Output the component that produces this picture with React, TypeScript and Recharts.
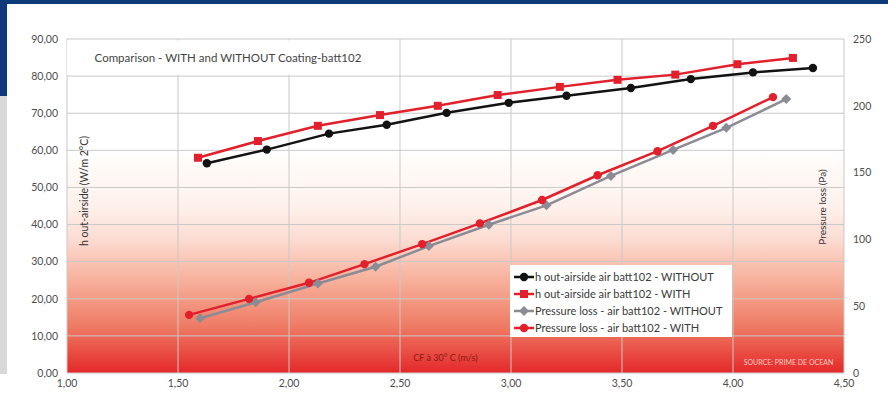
import React from 'react';
import {
  ComposedChart,
  Line,
  XAxis,
  YAxis,
  CartesianGrid,
  Legend,
  ReferenceArea,
} from 'recharts';

// ---- data ----
const xTicks = [1.0, 1.5, 2.0, 2.5, 3.0, 3.5, 4.0, 4.5];
const leftTicks = [0, 10, 20, 30, 40, 50, 60, 70, 80, 90];
const rightTicks = [0, 50, 100, 150, 200, 250];

const hWithoutX = [1.63, 1.9, 2.18, 2.44, 2.71, 2.99, 3.25, 3.54, 3.81, 4.09, 4.36];
const hWithoutY = [56.5, 60.2, 64.5, 66.9, 70.1, 72.8, 74.7, 76.8, 79.2, 81.0, 82.2];

const hWithX = [1.59, 1.86, 2.13, 2.41, 2.67, 2.94, 3.22, 3.48, 3.74, 4.02, 4.27];
const hWithY = [58.0, 62.5, 66.6, 69.5, 72.0, 74.9, 77.1, 79.0, 80.4, 83.2, 84.9];

const pWithoutX = [1.6, 1.85, 2.13, 2.39, 2.63, 2.9, 3.16, 3.45, 3.73, 3.97, 4.24];
const pWithoutY = [41, 53, 67, 79.5, 95, 111, 125.5, 147.5, 167, 183.5, 205];

const pWithX = [1.55, 1.82, 2.09, 2.34, 2.6, 2.86, 3.14, 3.39, 3.66, 3.91, 4.18];
const pWithY = [43.5, 55.5, 67.5, 81.5, 96.5, 112, 129.5, 148, 166, 185, 206.5];

const seriesNames = [
  'h out-airside air batt102 - WITHOUT',
  'h out-airside air batt102 - WITH',
  'Pressure loss - air batt102 - WITHOUT',
  'Pressure loss - air batt102 - WITH',
];

const titleText = 'Comparison - WITH and WITHOUT Coating-batt102';
const leftLabel = 'h out-airside (W/m 2°C)';
const rightLabel = 'Pressure loss (Pa)';
const xLabel = 'CF à 30° C (m/s)';
const sourceText = 'SOURCE: PRIME DE OCEAN';

const toPoints = (xs: number[], ys: number[]) => xs.map((x, i) => ({ x, y: ys[i] }));

const RED = '#e2202c';
const BLACK = '#121212';
const GREY = '#8b8b95';
const FONT = 'Lato, "Open Sans", sans-serif';

type Shape = 'circle' | 'square' | 'diamond';

const marker = (shape: Shape, cx: number, cy: number, color: string, key?: any) => {
  if (shape === 'square') {
    return <rect key={key} x={cx - 4} y={cy - 4} width={8} height={8} fill={color} />;
  }
  if (shape === 'diamond') {
    return (
      <polygon
        key={key}
        points={`${cx},${cy - 5} ${cx + 5},${cy} ${cx},${cy + 5} ${cx - 5},${cy}`}
        fill={color}
      />
    );
  }
  return <circle key={key} cx={cx} cy={cy} r={4.2} fill={color} />;
};

const seriesDefs = [
  { name: seriesNames[0], data: toPoints(hWithoutX, hWithoutY), color: BLACK, shape: 'circle' as Shape, axis: 'left' },
  { name: seriesNames[1], data: toPoints(hWithX, hWithY), color: RED, shape: 'square' as Shape, axis: 'left' },
  { name: seriesNames[2], data: toPoints(pWithoutX, pWithoutY), color: GREY, shape: 'diamond' as Shape, axis: 'right' },
  { name: seriesNames[3], data: toPoints(pWithX, pWithY), color: RED, shape: 'circle' as Shape, axis: 'right' },
];

const fmt2 = (v: number) => v.toFixed(2).replace('.', ',');

const renderLegend = () => (
  <div
    style={{
      background: '#fff',
      padding: '3px 4px',
      boxSizing: 'border-box',
      width: '100%',
      height: '100%',
      fontFamily: FONT,
      fontSize: 11,
      color: '#3a3a3a',
    }}
  >
    {seriesDefs.map((s) => (
      <div key={s.name} style={{ display: 'flex', alignItems: 'center', height: 17 }}>
        <svg width={20} height={12} style={{ marginRight: 1 }}>
          <line x1={0} y1={6} x2={20} y2={6} stroke={s.color} strokeWidth={2.5} />
          {marker(s.shape, 10, 6, s.color)}
        </svg>
        <span style={{ whiteSpace: 'nowrap' }}>{s.name}</span>
      </div>
    ))}
  </div>
);

export default function App() {
  return (
    <div style={{ position: 'fixed', left: 0, top: 0, width: 888, height: 401, background: '#fff', overflow: 'hidden' }}>
      {/* frame decoration */}
      <div style={{ position: 'absolute', left: 0, top: 0, width: 888, height: 4, background: '#0d3b79' }} />
      <div style={{ position: 'absolute', left: 0, top: 0, width: 7, height: 96, background: '#0d3b79' }} />
      <div style={{ position: 'absolute', left: 0, top: 96, width: 7, height: 278, background: '#d8d8d8' }} />
      <div style={{ position: 'absolute', left: 0, top: 0 }}>
        <ComposedChart
          width={888}
          height={401}
          margin={{ top: 39, right: 0, bottom: 0, left: 0 }}
          style={{ fontFamily: FONT }}
        >
          <defs>
            <linearGradient id="bgGrad" x1="0" y1="0" x2="0" y2="1">
              <stop offset="0" stopColor="#ffffff" />
              <stop offset="0.33" stopColor="#ffffff" />
              <stop offset="0.37" stopColor="#fffbf8" />
              <stop offset="0.5" stopColor="#fef1ec" />
              <stop offset="0.6" stopColor="#fcdcd2" />
              <stop offset="0.72" stopColor="#f7b19c" />
              <stop offset="0.86" stopColor="#ef7b64" />
              <stop offset="1" stopColor="#e4282a" />
            </linearGradient>
          </defs>
          <CartesianGrid stroke="#c9c9c9" strokeWidth={1} fill="url(#bgGrad)" fillOpacity={1} yAxisId="left" />
          <XAxis
            type="number"
            dataKey="x"
            domain={[1, 4.5]}
            ticks={xTicks}
            allowDuplicatedCategory={false}
            tickFormatter={fmt2}
            height={28}
            axisLine={false}
            tickLine={false}
            tickSize={0}
            tickMargin={7}
            tick={{ fill: '#4d4d4d', fontSize: 10.5 }}
            label={{ value: xLabel, position: 'insideTop', offset: 0, dy: -18, dx: -10, fill: '#8a1a14', fontSize: 9 }}
          />
          <YAxis
            yAxisId="left"
            type="number"
            domain={[0, 90]}
            ticks={leftTicks}
            tickFormatter={fmt2}
            width={67}
            axisLine={false}
            tickLine={false}
            tickSize={0}
            tickMargin={9}
            tick={{ fill: '#4d4d4d', fontSize: 10.5 }}
            label={{
              content: (props: any) => {
                const vb = props.viewBox || { x: 0, y: 39, width: 67, height: 334 };
                const cx = vb.x + vb.width + 17;
                const cy = vb.y + vb.height / 2 - 15;
                return (
                  <text
                    x={cx}
                    y={cy}
                    transform={`rotate(-90 ${cx} ${cy})`}
                    textAnchor="middle"
                    dominantBaseline="central"
                    fill="#333"
                    fontSize={10.5}
                  >
                    {leftLabel}
                  </text>
                );
              },
            }}
          />
          <YAxis
            yAxisId="right"
            orientation="right"
            type="number"
            domain={[0, 250]}
            ticks={rightTicks}
            width={44}
            axisLine={false}
            tickLine={false}
            tickSize={0}
            tickMargin={9}
            tick={{ fill: '#4d4d4d', fontSize: 10.5 }}
            label={{
              content: (props: any) => {
                const vb = props.viewBox || { x: 844, y: 39, width: 44, height: 334 };
                const cx = vb.x - 22;
                const cy = vb.y + vb.height / 2 + 1;
                return (
                  <text
                    x={cx}
                    y={cy}
                    transform={`rotate(-90 ${cx} ${cy})`}
                    textAnchor="middle"
                    dominantBaseline="central"
                    fill="#333"
                    fontSize={10}
                  >
                    {rightLabel}
                  </text>
                );
              },
            }}
          />
          <ReferenceArea
            yAxisId="left"
            x1={1.0}
            x2={2.45}
            y1={80.4}
            y2={89.6}
            fill="#ffffff"
            fillOpacity={1}
            stroke="none"
            ifOverflow="visible"
            label={{ value: titleText, position: 'center', fill: '#444', fontSize: 11.5 }}
          />
          <ReferenceArea
            yAxisId="left"
            x1={4.0}
            x2={4.5}
            y1={0.5}
            y2={5}
            fillOpacity={0}
            stroke="none"
            label={{ value: sourceText, position: 'center', fill: '#f9c9bf', fontSize: 7 }}
          />
          {seriesDefs.map((s) => (
            <Line
              key={s.name}
              name={s.name}
              yAxisId={s.axis}
              data={s.data}
              dataKey="y"
              type="linear"
              stroke={s.color}
              strokeWidth={2.5}
              isAnimationActive={false}
              dot={(p: any) => marker(s.shape, p.cx, p.cy, s.color, `${s.name}-${p.index}`)}
              activeDot={false}
            />
          ))}
          <Legend
            layout="vertical"
            align="center"
            verticalAlign="middle"
            content={renderLegend}
            wrapperStyle={{ position: 'absolute', left: 510, top: 265, width: 222, height: 72 }}
          />
        </ComposedChart>
      </div>
    </div>
  );
}
